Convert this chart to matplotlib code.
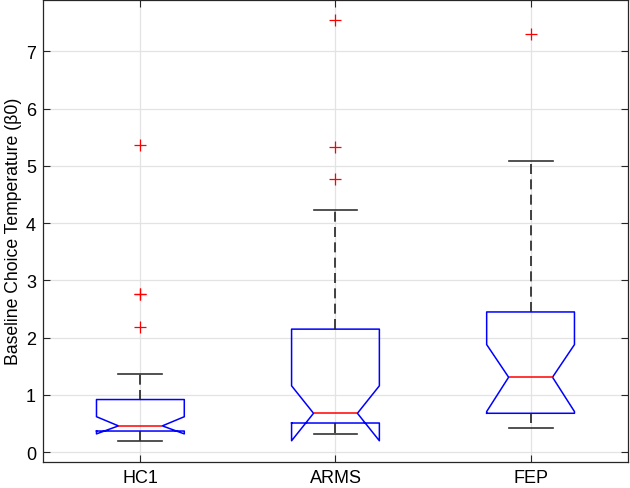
import matplotlib
matplotlib.use("Agg")
import matplotlib.pyplot as plt

plt.rcParams['font.family'] = ['Liberation Sans', 'DejaVu Sans']

groups = ["HC1", "ARMS", "FEP"]
q1 = [0.37, 0.51, 0.68]
med = [0.46, 0.68, 1.31]
q3 = [0.92, 2.15, 2.45]
ci_lo = [0.32, 0.20, 0.71]
ci_hi = [0.62, 1.16, 1.88]
whis_lo = [0.20, 0.31, 0.42]
whis_hi = [1.37, 4.23, 5.08]
outliers = [[5.36, 2.77, 2.76, 2.19], [7.55, 5.33, 4.77], [7.30]]

stats = []
for i, g in enumerate(groups):
    stats.append(dict(label=g, q1=q1[i], med=med[i], q3=q3[i],
                      cilo=ci_lo[i], cihi=ci_hi[i],
                      whislo=whis_lo[i], whishi=whis_hi[i],
                      fliers=outliers[i]))

fig = plt.figure(figsize=(6.3, 4.89), dpi=100)
ax = fig.add_axes([0.068, 0.054, 0.929, 0.944])

ax.grid(True, color='#e3e3e3', linewidth=0.9, zorder=0)
ax.set_axisbelow(True)

ax.bxp(stats, positions=[1, 2, 3], widths=0.45, shownotches=True,
       boxprops=dict(color='#0000ff', linewidth=1.1),
       medianprops=dict(color='#ff0000', linewidth=1.1),
       whiskerprops=dict(color='#222222', linewidth=1.2, linestyle=(0, (6.0, 3.2))),
       capprops=dict(color='#333333', linewidth=1.2),
       flierprops=dict(marker='+', markeredgecolor='#ff0000', markersize=8,
                       markeredgewidth=0.9, linestyle='none'),
       capwidths=0.225)

ax.set_xlim(0.5, 3.5)
ax.set_ylim(-0.164, 7.90)
ax.set_yticks(range(0, 8))
ax.set_xticks([1, 2, 3])
ax.set_xticklabels(groups)
ax.tick_params(direction='in', length=5, width=0.8, color='#262626',
               top=True, right=True, labelsize=13, pad=5)
ax.tick_params(axis='y', pad=5)
for s in ax.spines.values():
    s.set_color('#262626')
    s.set_linewidth(0.9)
ax.set_ylabel('Baseline Choice Temperature (β0)', fontsize=12.7, labelpad=3)

fig.savefig('out.png', dpi=100)
